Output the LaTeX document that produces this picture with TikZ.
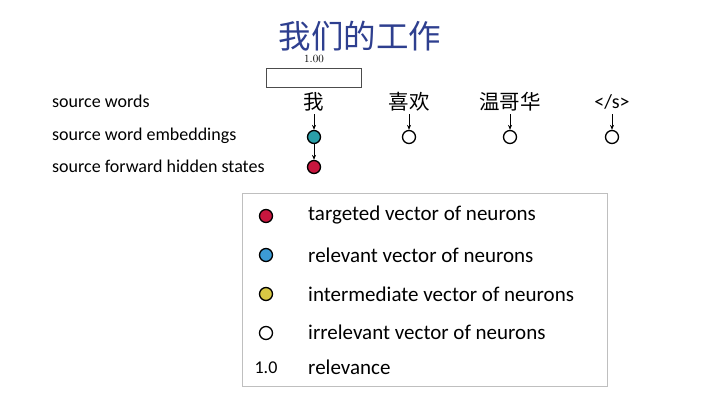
\documentclass[tikz,border=0pt]{standalone}
\usepackage{fontspec}
\setmainfont{Carlito}
\newfontfamily\cjk{Noto Sans CJK SC}
\newfontfamily\lmr{Latin Modern Roman}
\usetikzlibrary{arrows.meta}
\definecolor{titleblue}{HTML}{2E3F8F}
\definecolor{tred}{HTML}{C8163E}
\definecolor{tteal}{HTML}{2A9FA8}
\definecolor{tblue}{HTML}{3C9BD6}
\definecolor{tyellow}{HTML}{D8C944}
\tikzset{
  neuron/.style={circle,draw=black,line width=1.3pt,minimum size=13pt,inner sep=0pt},
  word/.style={font=\cjk\fontsize{20.5}{22}\selectfont,inner sep=1pt},
  rowlabel/.style={anchor=west,font=\fontsize{18}{20}\selectfont,inner sep=0pt},
  legtext/.style={anchor=west,font=\fontsize{21}{23}\selectfont,inner sep=0pt},
  conn/.style={-{Stealth[length=5pt,width=4pt]},line width=0.9pt}
}
\begin{document}
\begin{tikzpicture}[x=1pt,y=-1pt]
\useasboundingbox (0,0) rectangle (720,405);
% title
\node[font=\cjk\fontsize{32.5}{35}\selectfont,text=titleblue] (title) at (360,36) {我们的工作};
% relevance box
\node[font=\lmr\fontsize{11}{12}\selectfont] (val) at (314,59) {1.00};
\node[draw=black!70,line width=0.7pt,minimum width=95pt,minimum height=19pt,inner sep=0pt] (bar) at (313.5,77.5) {};
% row labels
\node[rowlabel] (l1) at (52,101) {source words};
\node[rowlabel] (l2) at (52,136) {source word embeddings};
\node[rowlabel] (l3) at (52,166) {source forward hidden states};
% words
\node[word] (w1) at (314,102) {我};
\node[word] (w2) at (409,102) {喜欢};
\node[word] (w3) at (510,102) {温哥华};
\node[font=\fontsize{20}{22}\selectfont,inner sep=1pt] (w4) at (612,102) {</s>};
% embeddings
\node[neuron,fill=tteal] (e1) at (314,137) {};
\node[neuron,fill=white] (e2) at (409,137) {};
\node[neuron,fill=white] (e3) at (510,137) {};
\node[neuron,fill=white] (e4) at (612,137) {};
% hidden
\node[neuron,fill=tred] (h1) at (314,167) {};
% connectors
\coordinate (c1) at (314,114);
\coordinate (c2) at (409,114);
\coordinate (c3) at (510,114);
\coordinate (c4) at (612,114);
\draw[conn] (c1) -- (e1.north);
\draw[conn] (c2) -- (e2.north);
\draw[conn] (c3) -- (e3.north);
\draw[conn] (c4) -- (e4.north);
\draw[conn] (e1.south) -- (h1.north);
% legend
\node[draw=black!25,line width=0.8pt,minimum width=365pt,minimum height=193pt,inner sep=0pt] (legend) at (424.5,289.5) {};
\node[neuron,fill=tred] (k1) at (266,216) {};
\node[neuron,fill=tblue] (k2) at (266,255) {};
\node[neuron,fill=tyellow] (k3) at (266,294) {};
\node[neuron,fill=white] (k4) at (266,333) {};
\node[font=\fontsize{18}{20}\selectfont,inner sep=0pt] (k5) at (266,368) {1.0};
\node[legtext] (t1) at (308,215) {targeted vector of neurons};
\node[legtext] (t2) at (308,255) {relevant vector of neurons};
\node[legtext] (t3) at (308,294) {intermediate vector of neurons};
\node[legtext] (t4) at (308,332) {irrelevant vector of neurons};
\node[legtext] (t5) at (308,367) {relevance};
\end{tikzpicture}
\end{document}
